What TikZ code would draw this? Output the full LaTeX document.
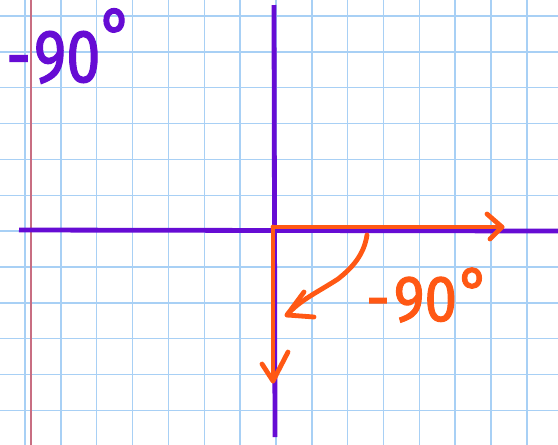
\documentclass[tikz,border=0pt]{standalone}
\usepackage{fontspec}
\setmainfont{Fira Sans}
\newfontfamily\handfont[FakeStretch=0.82,FakeBold=1.6]{Fira Sans}
\newfontfamily\handfontwide[FakeStretch=0.9,FakeBold=1.6]{Fira Sans}
\definecolor{gridblue}{RGB}{168,208,245}
\definecolor{margred}{RGB}{200,110,130}
\definecolor{axpurple}{RGB}{102,12,212}
\definecolor{penorange}{RGB}{255,88,20}
\tikzset{
  gridline/.style={draw=gridblue,line width=1.5pt},
  marginline/.style={draw=margred,line width=1.3pt},
  axisline/.style={draw=axpurple,line width=4.8pt},
  orangepen/.style={draw=penorange,line width=4.8pt,line cap=round,line join=round},
  purplelabel/.style={text=axpurple,font=\handfont\fontsize{75}{75}\selectfont,inner sep=0pt},
  orangelabel/.style={text=penorange,font=\handfontwide\fontsize{65}{65}\selectfont,inner sep=0pt}
}
\begin{document}
\begin{tikzpicture}[x=1pt,y=-1pt]
\useasboundingbox (0,0) rectangle (558,445);
\fill[white] (0,0) rectangle (558,445);
% grid
\foreach \k in {0,...,14} {
  \draw[gridline] ({25+\k*35.85},0) -- ({25+\k*35.85},445);
}
\foreach \k in {0,...,11} {
  \draw[gridline] (0,{16+\k*35.85}) -- (558,{16+\k*35.85});
}
% margin
\draw[marginline] (31,0) -- (31,445);
% axes
\coordinate (ytop) at (274,5);
\coordinate (ybot) at (275,437);
\coordinate (xleft) at (19,230);
\coordinate (xright) at (558,231);
\draw[axisline] (ytop) -- (ybot);
\draw[axisline] (xleft) -- (xright);
% orange arrows
\coordinate (o) at (273,227);
\coordinate (htip) at (502,227);
\coordinate (vtip) at (273,381);
\draw[orangepen] (o) -- (htip);
\draw[orangepen] (487,214) -- (htip) -- (490,239);
\draw[orangepen] (o) -- (vtip);
\draw[orangepen] (262,364) -- (vtip) -- (288,352);
% curved arrow
\coordinate (cs) at (367,235);
\coordinate (ce) at (287,315);
\draw[orangepen] (cs) .. controls (364,255) and (352,268) .. (338,279) .. controls (318,292) and (300,300) .. (ce);
\draw[orangepen] (304,292) -- (ce) -- (314,317);
% labels
\node[purplelabel,anchor=base west] (plab) at (6,82) {-\hspace{3pt}90\raisebox{0.28em}{°}};
\node[orangelabel,anchor=base west] (olab) at (366,321) {-\hspace{4pt}90\hspace{2pt}\raisebox{0.12em}{°}};
\end{tikzpicture}
\end{document}
